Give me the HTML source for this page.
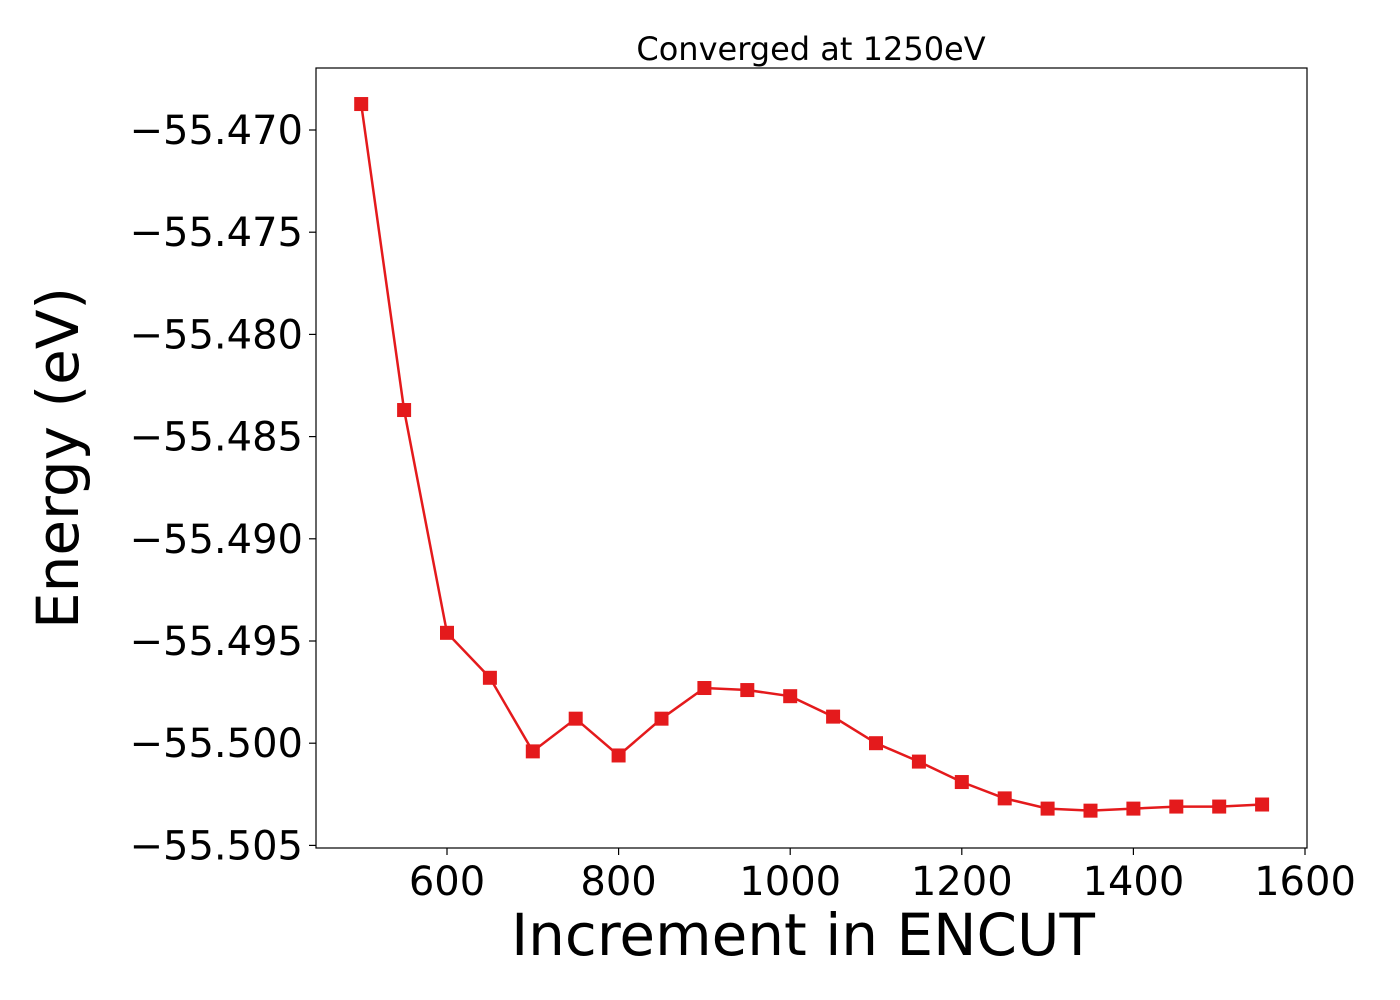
<!DOCTYPE html>
<html><head><meta charset="utf-8"><style>body{margin:0;background:#fff}svg{display:block}text{font-family:"DejaVu Sans","Liberation Sans",sans-serif;fill:#000}</style></head>
<body>
<svg id="chart" width="1400" height="1000" viewBox="0 0 1400 1000">
<rect x="316" y="68" width="991" height="780" fill="#fff" stroke="#000" stroke-width="1.2"/>
<text x="811" y="60" font-size="32" text-anchor="middle">Converged at 1250eV</text>
<text x="803" y="955" font-size="58" text-anchor="middle">Increment in ENCUT</text>
<text transform="translate(78,458) rotate(-90)" font-size="58" text-anchor="middle">Energy (eV)</text>
<g id="xt"></g><g id="yt"></g><g id="series"></g>
</svg>
<script>
const encut=[500,550,600,650,700,750,800,850,900,950,1000,1050,1100,1150,1200,1250,1300,1350,1400,1450,1500,1550];
const energy=[-55.46873,-55.4837,-55.4946,-55.4968,-55.5004,-55.4988,-55.5006,-55.4988,-55.4973,-55.4974,-55.4977,-55.4987,-55.5000,-55.5009,-55.5019,-55.5027,-55.5032,-55.5033,-55.5032,-55.5031,-55.5031,-55.5030];
const xTicks=[600,800,1000,1200,1400,1600];
const yTicks=[-55.470,-55.475,-55.480,-55.485,-55.490,-55.495,-55.500,-55.505];
const NS="http://www.w3.org/2000/svg";
function X(v){return 447+(v-600)*171.6/200;}
function Y(v){return 130+(-55.470-v)*102.2/0.005;}
function mk(t,a,p){const e=document.createElementNS(NS,t);for(const k in a)e.setAttribute(k,a[k]);p.appendChild(e);return e;}
const xt=document.getElementById('xt'),yt=document.getElementById('yt'),s=document.getElementById('series');
xTicks.forEach(v=>{const x=X(v);
const l=mk('line',{x1:x,x2:x,y1:848,y2:855,stroke:'#000','stroke-width':1.2},xt);

const t=mk('text',{x:x,y:895,'font-size':40,'text-anchor':'middle'},xt);t.textContent=v;
});
yTicks.forEach(v=>{const y=Y(v);
const l=mk('line',{x1:309,x2:316,y1:y,y2:y,stroke:'#000','stroke-width':1.2},yt);

const t=mk('text',{x:303,y:y+14,'font-size':40,'text-anchor':'end'},yt);t.textContent='\u2212'+Math.abs(v).toFixed(3);
});
const pl=mk('polyline',{points:encut.map((v,i)=>X(v)+','+Y(energy[i])).join(' '),fill:'none',stroke:'#e41a1c','stroke-width':2.5},s);

encut.forEach((v,i)=>{const r=mk('rect',{x:X(v)-7,y:Y(energy[i])-7,width:14,height:14,fill:'#e41a1c'},s);
});
</script>
</body></html>
